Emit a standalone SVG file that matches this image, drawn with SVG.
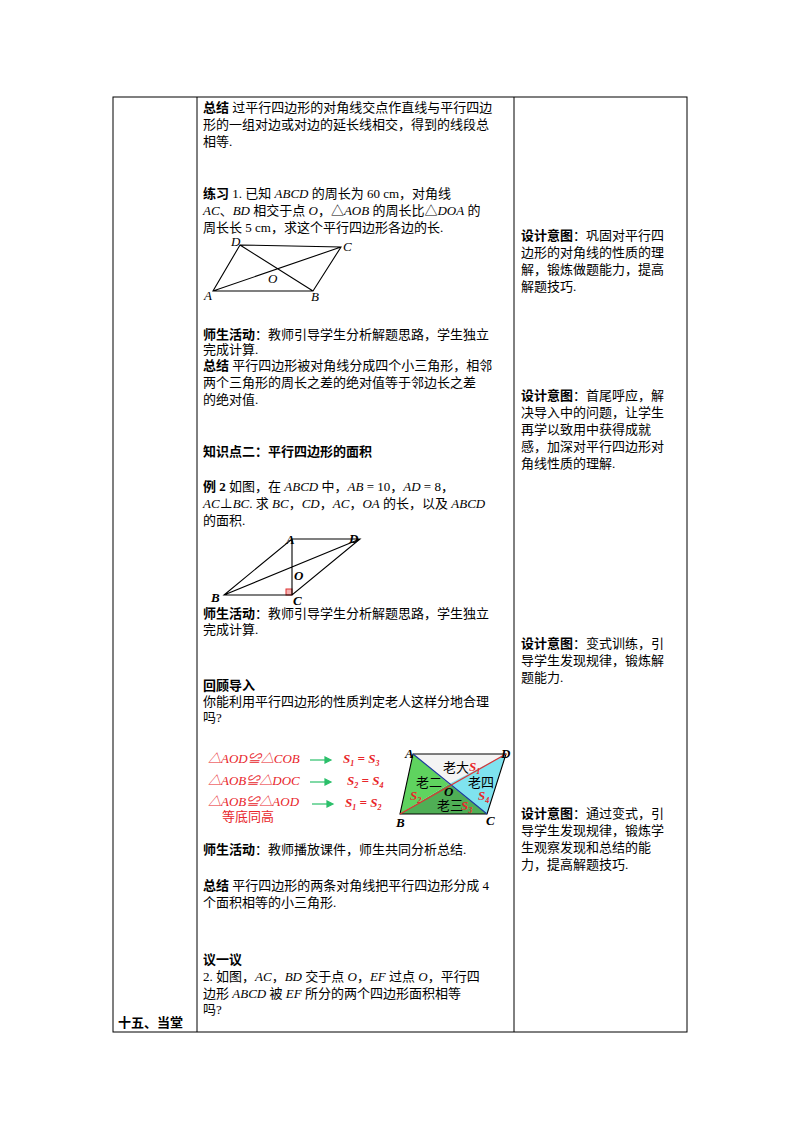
<svg xmlns="http://www.w3.org/2000/svg" width="800" height="1132" viewBox="0 0 800 1132">
<style>
text{font-family:"Liberation Serif","Noto Sans CJK SC",serif;font-size:13px;fill:#000}
.b{font-weight:bold}
.i{font-style:italic}
.r{fill:#e8262b;font-style:italic}
.rb{fill:#e8262b;font-style:italic;font-weight:bold}
.g{stroke:#000;stroke-width:1.1;fill:none}
.lb{font-style:italic;font-size:13px}
</style>
<rect width="800" height="1132" fill="#fff"/>
<g id="table" stroke="#000" stroke-width="1" fill="none">
<rect x="113" y="97" width="574" height="935"/>
<line x1="197" y1="97" x2="197" y2="1032"/>
<line x1="514" y1="97" x2="514" y2="1032"/>
</g>
<g id="col1"><text x="118" y="1027" class="b">十五、当堂</text></g>
<g id="content">
<text x="203" y="112"><tspan class="b">总结</tspan> 过平行四边形的对角线交点作直线与平行四边</text>
<text x="203" y="129">形的一组对边或对边的延长线相交，得到的线段总</text>
<text x="203" y="146">相等.</text>
<text x="203" y="198"><tspan class="b">练习</tspan> 1. 已知   <tspan class="i">ABCD</tspan> 的周长为 60 cm，对角线</text>
<text x="203" y="215"><tspan class="i">AC</tspan>、<tspan class="i">BD</tspan> 相交于点 <tspan class="i">O</tspan>，△<tspan class="i">AOB</tspan> 的周长比△<tspan class="i">DOA</tspan> 的</text>
<text x="203" y="232">周长长 5 cm，求这个平行四边形各边的长.</text>
</g>
<g id="fig1">
<path class="g" d="M240,245 L341,247 L313,291 L213,291 Z M213,291 L341,247 M240,245 L313,291"/>
<text x="231" y="246" class="lb">D</text><text x="343" y="251" class="lb">C</text>
<text x="204" y="300" class="lb">A</text><text x="311" y="301" class="lb">B</text>
<text x="268" y="283" class="lb">O</text>
</g>
<g id="text2">
<text x="203" y="339"><tspan class="b">师生活动</tspan>：教师引导学生分析解题思路，学生独立</text>
<text x="203" y="354">完成计算.</text>
<text x="203" y="370"><tspan class="b">总结</tspan> 平行四边形被对角线分成四个小三角形，相邻</text>
<text x="203" y="387">两个三角形的周长之差的绝对值等于邻边长之差</text>
<text x="203" y="404">的绝对值.</text>
<text x="203" y="456" class="b">知识点二：平行四边形的面积</text>
<text x="203" y="491"><tspan class="b">例 2</tspan>   如图，在   <tspan class="i">ABCD</tspan> 中，<tspan class="i">AB</tspan> = 10，<tspan class="i">AD</tspan> = 8，</text>
<text x="203" y="508"><tspan class="i">AC</tspan>⊥<tspan class="i">BC</tspan>. 求 <tspan class="i">BC</tspan>，<tspan class="i">CD</tspan>，<tspan class="i">AC</tspan>，<tspan class="i">OA</tspan> 的长，以及   <tspan class="i">ABCD</tspan></text>
<text x="203" y="525">的面积.</text>
</g>
<g id="fig2">
<rect x="286" y="589" width="6" height="6" fill="#f4b0b0" stroke="#d33" stroke-width="1"/>
<path class="g" d="M292,539 L360,539 L292,595 L224,595 Z M292,539 L292,595 M224,595 L360,539"/>
<text x="286" y="544" class="lb b">A</text><text x="349" y="543" class="lb b">D</text>
<text x="211" y="602" class="lb b">B</text><text x="293" y="605" class="lb b">C</text>
<text x="294" y="580" class="lb b">O</text>
</g>
<g id="text3">
<text x="203" y="618"><tspan class="b">师生活动</tspan>：教师引导学生分析解题思路，学生独立</text>
<text x="203" y="634">完成计算.</text>
<text x="203" y="690" class="b">回顾导入</text>
<text x="203" y="706">你能利用平行四边形的性质判定老人这样分地合理</text>
<text x="203" y="722">吗?</text>
</g>
<g id="fig3left">
<text x="208" y="763" class="r">△<tspan>AOD</tspan>≌△<tspan>COB</tspan></text>
<text x="208" y="785" class="r">△<tspan>AOB</tspan>≌△<tspan>DOC</tspan></text>
<text x="208" y="806" class="r">△<tspan>AOB</tspan>≌△<tspan>AOD</tspan></text>
<text x="222" y="821" style="fill:#e8262b">等底同高</text>
<g stroke="#2bbf6a" stroke-width="1.2" fill="#2bbf6a">
<line x1="310" y1="760" x2="330" y2="760"/><path d="M331,760 l-6,-3 v6z"/>
<line x1="310" y1="782" x2="330" y2="782"/><path d="M331,782 l-6,-3 v6z"/>
<line x1="312" y1="804" x2="332" y2="804"/><path d="M333,804 l-6,-3 v6z"/>
</g>
<text x="343" y="763" class="rb">S<tspan font-size="8" dy="3">1</tspan><tspan dy="-3"> = S</tspan><tspan font-size="8" dy="3">3</tspan></text>
<text x="347" y="785" class="rb">S<tspan font-size="8" dy="3">2</tspan><tspan dy="-3"> = S</tspan><tspan font-size="8" dy="3">4</tspan></text>
<text x="345" y="807" class="rb">S<tspan font-size="8" dy="3">1</tspan><tspan dy="-3"> = S</tspan><tspan font-size="8" dy="3">2</tspan></text>
</g>
<g id="fig3">
<polygon points="413,754 506,754 449,784" fill="#f4f4f4"/>
<polygon points="413,754 449,784 400,814" fill="#5fd35f"/>
<polygon points="506,754 487,814 449,784" fill="#7fe3ef"/>
<polygon points="400,814 487,814 449,784" fill="#4fae55"/>
<path class="g" d="M413,754 L506,754 L487,814 L400,814 Z"/>
<line x1="413" y1="754" x2="487" y2="814" stroke="#1a3a9a" stroke-width="1.2"/>
<line x1="400" y1="814" x2="506" y2="754" stroke="#d33" stroke-width="1.2"/>
<text x="405" y="758" class="lb b">A</text><text x="501" y="758" class="lb b">D</text>
<text x="396" y="827" class="lb b">B</text><text x="486" y="825" class="lb b">C</text>
<text x="444" y="796" class="lb b">O</text>
<text x="443" y="772">老大</text><text x="469" y="771" class="rb">S<tspan font-size="8" dy="3">1</tspan></text>
<text x="416" y="787">老二</text><text x="468" y="787">老四</text>
<text x="437" y="810">老三</text><text x="461" y="810" class="rb">S<tspan font-size="8" dy="3">3</tspan></text>
<text x="410" y="800" class="rb">S<tspan font-size="8" dy="3">2</tspan></text>
<text x="478" y="800" class="rb">S<tspan font-size="8" dy="3">4</tspan></text>
</g>
<g id="text4">
<text x="203" y="854"><tspan class="b">师生活动</tspan>：教师播放课件，师生共同分析总结.</text>
<text x="203" y="890"><tspan class="b">总结</tspan> 平行四边形的两条对角线把平行四边形分成 4</text>
<text x="203" y="907">个面积相等的小三角形.</text>
<text x="203" y="964" class="b">议一议</text>
<text x="203" y="981">2. 如图，<tspan class="i">AC</tspan>，<tspan class="i">BD</tspan> 交于点 <tspan class="i">O</tspan>，<tspan class="i">EF</tspan> 过点 <tspan class="i">O</tspan>，平行四</text>
<text x="203" y="998">边形 <tspan class="i">ABCD</tspan> 被 <tspan class="i">EF</tspan> 所分的两个四边形面积相等</text>
<text x="203" y="1014">吗?</text>
</g>
<g id="col3">
<text x="521" y="240"><tspan class="b">设计意图</tspan>：巩固对平行四</text>
<text x="521" y="257">边形的对角线的性质的理</text>
<text x="521" y="274">解，锻炼做题能力，提高</text>
<text x="521" y="291">解题技巧.</text>
<text x="521" y="400"><tspan class="b">设计意图</tspan>：首尾呼应，解</text>
<text x="521" y="417">决导入中的问题，让学生</text>
<text x="521" y="434">再学以致用中获得成就</text>
<text x="521" y="451">感，加深对平行四边形对</text>
<text x="521" y="468">角线性质的理解.</text>
<text x="521" y="648"><tspan class="b">设计意图</tspan>：变式训练，引</text>
<text x="521" y="665">导学生发现规律，锻炼解</text>
<text x="521" y="682">题能力.</text>
<text x="521" y="818"><tspan class="b">设计意图</tspan>：通过变式，引</text>
<text x="521" y="835">导学生发现规律，锻炼学</text>
<text x="521" y="852">生观察发现和总结的能</text>
<text x="521" y="869">力，提高解题技巧.</text>
</g>
</svg>
